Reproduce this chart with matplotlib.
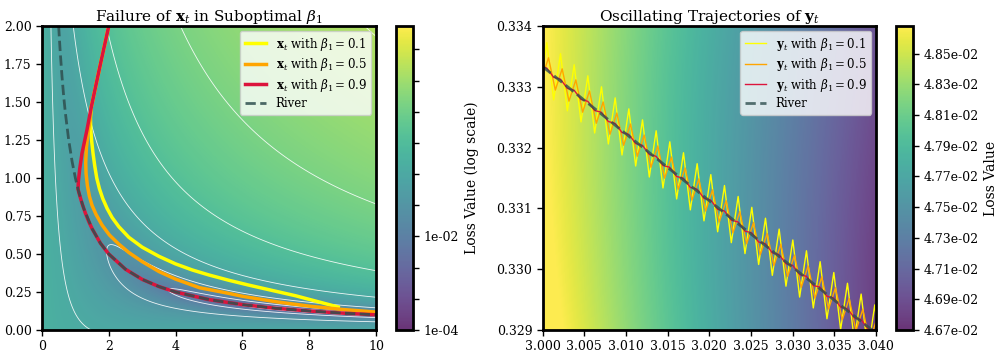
import numpy as np
import matplotlib
matplotlib.use("Agg")
import matplotlib.pyplot as plt
from matplotlib.ticker import FormatStrFormatter

plt.rcParams['font.family'] = ['DejaVu Serif']
plt.rcParams['mathtext.fontset'] = 'dejavuserif'
plt.rcParams['contour.negative_linestyle'] = 'solid'

# loss surface: (xy - 1)^2 / valley_scale + river_amp * exp(-x)
valley_scale = 1.5
river_amp = 0.978

# left panel: trajectories
yellow_x = [2.0, 1.73, 1.47, 1.45, 1.46, 1.49, 1.53, 1.58, 1.64, 1.72, 1.82, 1.95, 2.1, 2.3, 2.6,
            3.0, 3.5, 4.0, 4.5, 5.0, 5.6, 6.2, 7.0, 7.6, 8.2, 8.87]
yellow_y = [2.0, 1.73, 1.46, 1.40, 1.32, 1.24, 1.16, 1.08, 1.00, 0.93, 0.865, 0.80, 0.74, 0.68, 0.61,
            0.545, 0.485, 0.435, 0.395, 0.362, 0.327, 0.295, 0.255, 0.225, 0.19, 0.151]
orange_x = [2.0, 1.73, 1.47, 1.44, 1.38, 1.33, 1.31, 1.32, 1.36, 1.42, 1.5, 1.62, 1.8, 2.02, 2.3,
            2.6, 3.0, 3.5, 4.0, 4.72, 5.62, 6.0, 7.0, 8.0, 9.0, 10.0]
orange_y = [2.0, 1.73, 1.46, 1.38, 1.30, 1.20, 1.10, 1.03, 0.95, 0.88, 0.82, 0.76, 0.69, 0.625, 0.565,
            0.51, 0.45, 0.385, 0.335, 0.278, 0.24, 0.222, 0.186, 0.157, 0.135, 0.118]
red_x = [2.0, 1.73, 1.47, 1.35, 1.2, 1.13, 1.09, 1.08, 1.12, 1.2, 1.3, 1.4, 1.5, 1.75,
         2.0, 2.5, 3.0, 3.5, 4.0, 5.0, 6.0, 7.0, 8.0, 9.0, 10.0]
red_y = [2.0, 1.73, 1.46, 1.32, 1.165, 1.06, 0.98, 0.926, 0.893, 0.833, 0.769, 0.714,
         0.667, 0.571, 0.5, 0.4, 0.333, 0.286, 0.25, 0.2, 0.167, 0.143, 0.125, 0.111, 0.1]
river_x = [0.5, 0.52, 0.55, 0.6, 0.65, 0.7, 0.8, 0.9, 1.0, 1.1, 1.25, 1.5, 1.75, 2.0, 2.5, 3.0,
           3.5, 4.0, 5.0, 6.0, 7.0, 8.0, 9.0, 10.0]
river_y = [2.0, 1.923, 1.818, 1.667, 1.538, 1.429, 1.25, 1.111, 1.0, 0.909, 0.8, 0.667, 0.571, 0.5,
           0.4, 0.333, 0.286, 0.25, 0.2, 0.167, 0.143, 0.125, 0.111, 0.1]
contour_log_levels = [-3.25, -2.45, -1.65, -0.85, -0.05, 0.75, 1.55, 2.35]

# right panel: zoomed oscillations
step_x = [2.99968, 3.00050, 3.00132, 3.00214, 3.00296, 3.00378, 3.00460, 3.00542, 3.00624, 3.00706,
          3.00788, 3.00870, 3.00952, 3.01034, 3.01116, 3.01198, 3.01280, 3.01362, 3.01444, 3.01526,
          3.01608, 3.01690, 3.01772, 3.01854, 3.01936, 3.02018, 3.02100, 3.02182, 3.02264, 3.02346,
          3.02428, 3.02510, 3.02592, 3.02674, 3.02756, 3.02838, 3.02920, 3.03002, 3.03084, 3.03166,
          3.03248, 3.03330, 3.03412, 3.03494, 3.03576, 3.03658, 3.03740, 3.03822, 3.03904, 3.03986,
          3.04068]
orange_step_x = [2.99988, 3.00070, 3.00152, 3.00234, 3.00316, 3.00398, 3.00480, 3.00562, 3.00644,
                 3.00726, 3.00808, 3.00890, 3.00972, 3.01054, 3.01136, 3.01218, 3.01300, 3.01382,
                 3.01464, 3.01546, 3.01628, 3.01710, 3.01792, 3.01874, 3.01956, 3.02038, 3.02120,
                 3.02202, 3.02284, 3.02366, 3.02448, 3.02530, 3.02612, 3.02694, 3.02776, 3.02858,
                 3.02940, 3.03022, 3.03104, 3.03186, 3.03268, 3.03350, 3.03432, 3.03514, 3.03596,
                 3.03678, 3.03760, 3.03842, 3.03924, 3.04006, 3.04088]
yellow_zy = [0.332969, 0.333728, 0.332787, 0.333546, 0.332605, 0.333364, 0.332423, 0.333182, 0.332241,
             0.333001, 0.332060, 0.332819, 0.331879, 0.332638, 0.331698, 0.332457, 0.331517, 0.332277,
             0.331337, 0.332096, 0.331156, 0.331916, 0.330976, 0.331736, 0.330796, 0.331556, 0.330616,
             0.331377, 0.330437, 0.331197, 0.330257, 0.331018, 0.330078, 0.330839, 0.329899, 0.330660,
             0.329721, 0.330481, 0.329542, 0.330303, 0.329363, 0.330124, 0.329185, 0.329946, 0.329007,
             0.329769, 0.328830, 0.329591, 0.328652, 0.329413, 0.328475]
orange_zy = [0.333129, 0.333478, 0.332947, 0.333296, 0.332765, 0.333114, 0.332583, 0.332932, 0.332401,
             0.332751, 0.332220, 0.332569, 0.332039, 0.332388, 0.331858, 0.332207, 0.331677, 0.332027,
             0.331497, 0.331846, 0.331316, 0.331666, 0.331136, 0.331486, 0.330956, 0.331306, 0.330776,
             0.331127, 0.330597, 0.330947, 0.330417, 0.330768, 0.330238, 0.330589, 0.330059, 0.330410,
             0.329881, 0.330231, 0.329702, 0.330053, 0.329523, 0.329874, 0.329345, 0.329696, 0.329167,
             0.329519, 0.328990, 0.329341, 0.328812, 0.329163, 0.328635]
red_zy = [0.333339, 0.333308, 0.333157, 0.333126, 0.332975, 0.332944, 0.332793, 0.332762, 0.332611,
          0.332581, 0.332430, 0.332399, 0.332249, 0.332218, 0.332068, 0.332037, 0.331887, 0.331857,
          0.331707, 0.331676, 0.331526, 0.331496, 0.331346, 0.331316, 0.331166, 0.331136, 0.330986,
          0.330957, 0.330807, 0.330777, 0.330627, 0.330598, 0.330448, 0.330419, 0.330269, 0.330240,
          0.330091, 0.330061, 0.329912, 0.329883, 0.329733, 0.329704, 0.329555, 0.329526, 0.329377,
          0.329349, 0.329200, 0.329171, 0.329022, 0.328993, 0.328845]
river_zx = [3.0, 3.005, 3.01, 3.015, 3.02, 3.025, 3.03, 3.035, 3.04]
river_zy = [0.333333, 0.332779, 0.332226, 0.331675, 0.331126, 0.330579, 0.330033, 0.329490, 0.328948]

betas = [0.1, 0.5, 0.9]
colors = ['#ffff00', '#ffa500', '#dc143c']
river_color = '#2f4f4f'


def loss(x, y):
    return (x * y - 1) ** 2 / valley_scale + river_amp * np.exp(-x)


fig = plt.figure(figsize=(9.97, 3.58), dpi=100)
ax1 = fig.add_axes([0.0421, 0.0782, 0.3350, 0.8490])
cax1 = fig.add_axes([0.3972, 0.0782, 0.0170, 0.8490])
ax2 = fig.add_axes([0.5443, 0.0782, 0.3343, 0.8490])
cax2 = fig.add_axes([0.8987, 0.0782, 0.0170, 0.8490])

legend_kw = dict(loc='upper right', fontsize=8.5, framealpha=0.8, borderaxespad=0.4,
                 handlelength=1.8, labelspacing=0.3)

# ---- left: full landscape
lo, hi = -3.8, 3.4
gx, gy = np.meshgrid(np.linspace(0, 10, 500), np.linspace(0, 2, 400))
logL = np.log10(loss(gx, gy))
im1 = ax1.imshow(logL, extent=[0, 10, 0, 2], origin='lower', aspect='auto',
                 cmap='viridis', vmin=lo, vmax=hi, alpha=0.8, interpolation='bilinear')
ax1.contour(gx, gy, logL, levels=contour_log_levels, colors='white', linewidths=0.6, alpha=0.9)

trajs = [(yellow_x, yellow_y), (orange_x, orange_y), (red_x, red_y)]
for (tx, ty), b, c in zip(trajs, betas, colors):
    ax1.plot(tx, ty, color=c, lw=2.5, label=r'$\mathbf{x}_t$ with $\beta_1 = %s$' % b)
ax1.plot(river_x, river_y, '--', color=river_color, lw=2, alpha=0.85, label='River')
ax1.set_xlim(0, 10)
ax1.set_ylim(0, 2)
ax1.set_xticks([0, 2, 4, 6, 8, 10])
ax1.set_yticks(np.arange(0, 2.01, 0.25))
ax1.yaxis.set_major_formatter(FormatStrFormatter('%.2f'))
ax1.set_title(r'Failure of $\mathbf{x}_t$ in Suboptimal $\beta_1$', fontsize=11, pad=4)
ax1.legend(**legend_kw)

cb1 = fig.colorbar(im1, cax=cax1)
step = (hi - lo) / 9.75
cb1.set_ticks([lo + k * step for k in range(10)])
cb1.set_ticklabels(['1e-04', '', '', '1e-02', '', '', '', '', '', ''])
cb1.set_label('Loss Value (log scale)', fontsize=10)

# ---- right: zoom on the river
zx, zy = np.meshgrid(np.linspace(3.0, 3.04, 300), np.linspace(0.329, 0.334, 300))
im2 = ax2.imshow(loss(zx, zy), extent=[3.0, 3.04, 0.329, 0.334], origin='lower', aspect='auto',
                 cmap='viridis', vmin=0.0467, vmax=0.04868, alpha=0.8, interpolation='bilinear')
zseries = [(step_x, yellow_zy), (orange_step_x, orange_zy), (step_x, red_zy)]
for (sx, sy), b, c in zip(zseries, betas, colors):
    ax2.plot(sx, sy, color=c, lw=1, label=r'$\mathbf{y}_t$ with $\beta_1 = %s$' % b)
ax2.plot(river_zx, river_zy, '--', color=river_color, lw=2, alpha=0.8, label='River')
ax2.set_xlim(3.0, 3.04)
ax2.set_ylim(0.329, 0.334)
ax2.set_xticks(np.arange(3.0, 3.0401, 0.005))
ax2.set_yticks(np.arange(0.329, 0.33401, 0.001))
ax2.xaxis.set_major_formatter(FormatStrFormatter('%.3f'))
ax2.yaxis.set_major_formatter(FormatStrFormatter('%.3f'))
ax2.set_title(r'Oscillating Trajectories of $\mathbf{y}_t$', fontsize=11, pad=4)
ax2.legend(**legend_kw)

cb2 = fig.colorbar(im2, cax=cax2)
cb2.set_ticks(np.arange(0.0467, 0.04851, 0.0002))
cb2.ax.yaxis.set_major_formatter(FormatStrFormatter('%.2e'))
cb2.set_label('Loss Value', fontsize=10)

for a in [ax1, ax2, cax1, cax2]:
    for s in a.spines.values():
        s.set_linewidth(2)
        s.set_color('black')
    a.tick_params(labelsize=9, direction='out', length=4, width=1)
cb1.outline.set_linewidth(2)
cb2.outline.set_linewidth(2)

fig.savefig('out.png', dpi=100)
